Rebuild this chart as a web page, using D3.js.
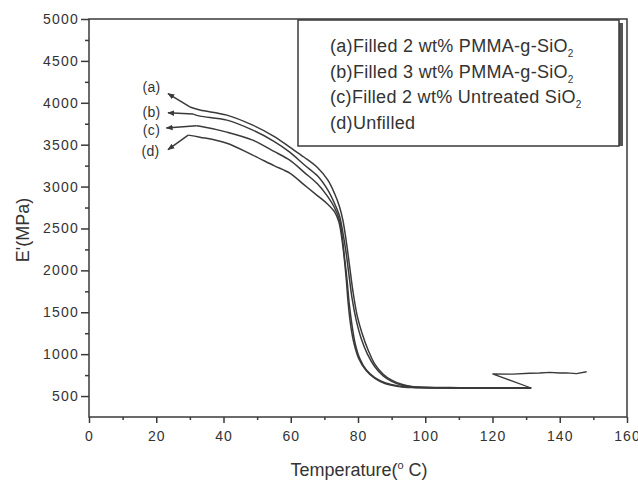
<!DOCTYPE html>
<html lang="en">
<head>
<meta charset="UTF-8">
<title>E' vs temperature</title>
<style>
  body { margin: 0; background: #fff; }
  text { font-family: "Liberation Sans", Arial, sans-serif; fill: #333; }
</style>
</head>
<body>
<script src="https://cdn.jsdelivr.net/npm/d3@7"></script>
<script>
// series: [temperature, E' (MPa)]
var curveA = [[30,3950],[33,3913],[41,3853],[48.7,3733],[55,3600],[59.7,3470],[64,3350],[68,3225],
  [71,3080],[73,2920],[74.5,2760],[75.5,2600],[76.5,2350],[77.5,2050],[78.5,1750],[79.8,1450],
  [81.2,1250],[83,1050],[85,880],[87.5,760],[90,690],[93,640],[96,615],[100,605],[110,600],[120,598],[131.5,596]];
var curveB = [[31,3865],[33,3841],[41,3793],[48.7,3674],[55,3540],[59.7,3411],[64,3260],[68,3125],
  [71,2960],[73,2800],[74.5,2650],[75.5,2450],[76.5,2200],[77.3,1950],[78.3,1650],[79.5,1400],
  [81,1180],[82.8,1000],[85,850],[87.5,740],[90,675],[93,630],[96,610],[100,602],[131.5,598]];
var curveC = [[32,3725],[33,3720],[41,3650],[48.7,3554],[55,3420],[59.7,3315],[64,3170],[68,3030],
  [71,2880],[73,2750],[74.5,2600],[75.3,2400],[76,2150],[76.7,1900],[77.4,1600],[78.2,1350],
  [79.2,1120],[80.5,950],[82.5,810],[85,720],[88,660],[92,620],[96,605],[131.5,596]];
var curveD = [[29.5,3614],[33,3590],[41,3518],[48.7,3375],[55,3250],[59.7,3160],[64,3020],[68,2890],
  [71,2790],[73,2700],[74.3,2580],[75.2,2380],[75.9,2150],[76.5,1900],[77.1,1600],[77.8,1350],
  [78.8,1130],[80.2,950],[82.3,810],[85,710],[88,650],[92,615],[96,602],[131.5,596]];
var curveDTail = [[131.5,596],[120,765],[126,762],[131,772],[134,775],[137,782],[140,775],[142,776],[145,768],[148,790]];

var seriesNames = ["(a)Filled 2 wt% PMMA-g-SiO", "(b)Filled 3 wt% PMMA-g-SiO", "(c)Filled 2 wt% Untreated SiO", "(d)Unfilled"];
var seriesSub = ["2", "2", "2", ""];
var curveTags = ["(a)", "(b)", "(c)", "(d)"];
// arrow tail (on curve) -> head (next to tag), and tag position
var arrowFrom = [[30,3950],[31,3865],[32,3725],[29.5,3614]];
var arrowTo = [[23.5,4110],[23.5,3880],[23,3700],[23.5,3440]];
var tagPos = [[18.6,4190],[18.6,3890],[18.6,3680],[18.3,3420]];

var xTicks = [0, 20, 40, 60, 80, 100, 120, 140, 160];
var yTicks = [500, 1000, 1500, 2000, 2500, 3000, 3500, 4000, 4500, 5000];

var width = 638, height = 480;
var x = d3.scaleLinear().domain([0, 160]).range([89, 627]);
var y = d3.scaleLinear().domain([250, 5000]).range([417, 19]);

var svg = d3.select("body").append("svg")
  .attr("width", width)
  .attr("height", height);

var ink = "#3a3a3a";

svg.append("defs").append("marker")
  .attr("id", "head")
  .attr("viewBox", "0 0 10 10")
  .attr("refX", 9).attr("refY", 5)
  .attr("markerWidth", 7).attr("markerHeight", 7)
  .attr("markerUnits", "userSpaceOnUse")
  .attr("orient", "auto")
  .append("path")
  .attr("d", "M0,1 L10,5 L0,9 z")
  .attr("fill", ink);

// frame
svg.append("rect")
  .attr("x", x(0)).attr("y", y(5000))
  .attr("width", x(160) - x(0)).attr("height", y(250) - y(5000))
  .attr("fill", "none").attr("stroke", ink).attr("stroke-width", 1.5);

// x axis
var xAxis = d3.axisBottom(x).tickValues(xTicks).tickSize(6).tickFormat(d3.format("d"));
var gx = svg.append("g").attr("transform", "translate(0," + y(250) + ")").call(xAxis);
gx.select(".domain").remove();
gx.selectAll(".tick line").attr("stroke", ink).attr("stroke-width", 1.5);
gx.selectAll(".tick text").attr("font-size", 14).attr("letter-spacing", "1px")
  .attr("dy", "1.05em").attr("fill", ink);

var gxm = svg.append("g").attr("transform", "translate(0," + y(250) + ")")
  .call(d3.axisBottom(x).tickValues(d3.range(10, 160, 20)).tickSize(3).tickFormat(""));
gxm.select(".domain").remove();
gxm.selectAll(".tick line").attr("stroke", ink).attr("stroke-width", 1.5);

// y axis
var yAxis = d3.axisLeft(y).tickValues(yTicks).tickSize(8).tickFormat(d3.format("d"));
var gy = svg.append("g").attr("transform", "translate(" + x(0) + ",0)").call(yAxis);
gy.select(".domain").remove();
gy.selectAll(".tick line").attr("stroke", ink).attr("stroke-width", 1.5);
gy.selectAll(".tick text").attr("font-size", 14).attr("letter-spacing", "1.2px")
  .attr("x", -10).attr("fill", ink);

var gym = svg.append("g").attr("transform", "translate(" + x(0) + ",0)")
  .call(d3.axisLeft(y).tickValues(d3.range(750, 5000, 500)).tickSize(4).tickFormat(""));
gym.select(".domain").remove();
gym.selectAll(".tick line").attr("stroke", ink).attr("stroke-width", 1.5);

// axis titles
var xt = svg.append("text")
  .attr("x", 359).attr("y", 476)
  .attr("text-anchor", "middle")
  .attr("font-size", 18);
xt.append("tspan").text("Temperature(");
xt.append("tspan").attr("font-size", 11).attr("dy", -7).text("o");
xt.append("tspan").attr("dy", 7).text(" C)");

svg.append("text")
  .attr("transform", "translate(29,230) rotate(-90)")
  .attr("text-anchor", "middle")
  .attr("font-size", 18)
  .text("E'(MPa)");

// curves
var line = d3.line()
  .x(function(d) { return x(d[0]); })
  .y(function(d) { return y(d[1]); })
  .curve(d3.curveCatmullRom.alpha(0.5));

var lineStraight = d3.line()
  .x(function(d) { return x(d[0]); })
  .y(function(d) { return y(d[1]); });

svg.selectAll("path.curve")
  .data([curveA, curveB, curveC, curveD])
  .enter().append("path")
  .attr("class", "curve")
  .attr("d", function(d) { return line(d); })
  .attr("fill", "none")
  .attr("stroke", ink)
  .attr("stroke-width", 1.5);

svg.append("path")
  .attr("d", lineStraight(curveDTail))
  .attr("fill", "none")
  .attr("stroke", ink)
  .attr("stroke-width", 1.3);

// arrows and tags
svg.selectAll("line.arrow")
  .data(arrowFrom)
  .enter().append("line")
  .attr("class", "arrow")
  .attr("x1", function(d) { return x(d[0]); })
  .attr("y1", function(d) { return y(d[1]); })
  .attr("x2", function(d, i) { return x(arrowTo[i][0]); })
  .attr("y2", function(d, i) { return y(arrowTo[i][1]); })
  .attr("stroke", ink)
  .attr("stroke-width", 1.5)
  .attr("marker-end", "url(#head)");

svg.selectAll("text.tag")
  .data(curveTags)
  .enter().append("text")
  .attr("class", "tag")
  .attr("x", function(d, i) { return x(tagPos[i][0]); })
  .attr("y", function(d, i) { return y(tagPos[i][1]); })
  .attr("dy", "0.35em")
  .attr("text-anchor", "middle")
  .attr("font-size", 14)
  .attr("letter-spacing", "0.4px")
  .text(function(d) { return d; });

// legend
var lg = svg.append("g");
lg.append("rect")
  .attr("x", 618).attr("y", 23).attr("width", 5).attr("height", 123)
  .attr("fill", "#555");
lg.append("rect")
  .attr("x", 298).attr("y", 20).attr("width", 321).attr("height", 126)
  .attr("fill", "#fff").attr("stroke", ink).attr("stroke-width", 1.5);

var rows = lg.selectAll("text.leg")
  .data(seriesNames)
  .enter().append("text")
  .attr("class", "leg")
  .attr("x", 330)
  .attr("y", function(d, i) { return 52 + i * 25.7; })
  .attr("font-size", 18)
  .attr("letter-spacing", "0.3px");
rows.append("tspan").text(function(d) { return d; });
rows.append("tspan")
  .attr("font-size", 10)
  .attr("dy", 5)
  .text(function(d, i) { return seriesSub[i]; });
</script>
</body>
</html>
